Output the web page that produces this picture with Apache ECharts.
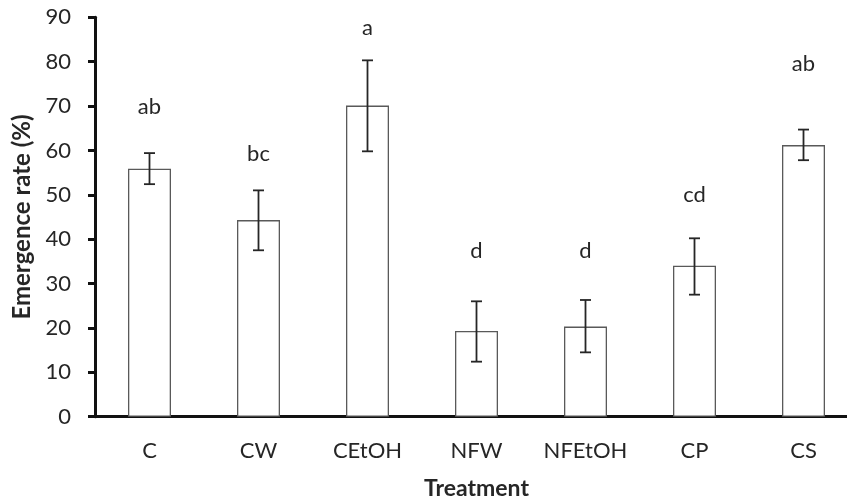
<!DOCTYPE html>
<html>
    <head>
        <meta charset="utf-8">
        <script src="https://cdn.jsdelivr.net/npm/echarts@6/dist/echarts.min.js"></script>
    </head>
    <body style="margin:0">
        <style>
            html, body, #main {
                width: 847px;
                height: 500px;
                background: #fff;
            }
        </style>
        <div id="main"></div>
        <script>
            var categories = ['C', 'CW', 'CEtOH', 'NFW', 'NFEtOH', 'CP', 'CS'];
            var means = [55.9, 44.3, 70.1, 19.3, 20.3, 34.0, 61.2];
            var errHigh = [59.4, 51.0, 80.3, 26.0, 26.3, 40.2, 64.7];
            var errLow = [52.4, 37.5, 59.8, 12.4, 14.5, 27.5, 57.8];
            var letters = ['ab', 'bc', 'a', 'd', 'd', 'cd', 'ab'];
            var letterY = [69.7, 59.3, 87.7, 37.3, 37.3, 49.9, 79.6];

            var font = 'Lato, "Open Sans", sans-serif';
            var textColor = '#262626';

            var chart = echarts.init(document.getElementById('main'));

            var errData = categories.map(function (c, i) {
                return [i, errHigh[i], errLow[i]];
            });
            var letterData = categories.map(function (c, i) {
                return [i, letterY[i], letters[i]];
            });

            chart.setOption({
                animation: false,
                grid: {
                    left: 95,
                    top: 17.3,
                    width: 763,
                    height: 399.4,
                    containLabel: false,
                    outerBoundsMode: 'none'
                },
                xAxis: {
                    type: 'category',
                    data: categories,
                    name: 'Treatment',
                    nameLocation: 'middle',
                    nameGap: 60,
                    nameTextStyle: {
                        fontFamily: font,
                        fontSize: 23,
                        fontWeight: 'bold',
                        color: textColor
                    },
                    axisLine: {
                        lineStyle: { color: '#111', width: 3 }
                    },
                    axisTick: {
                        length: 6,
                        lineStyle: { color: '#111', width: 3 }
                    },
                    axisLabel: {
                        margin: 23,
                        fontFamily: font,
                        fontSize: 22,
                        color: textColor
                    }
                },
                yAxis: {
                    type: 'value',
                    min: 0,
                    max: 90,
                    interval: 10,
                    name: 'Emergence rate (%)',
                    nameLocation: 'middle',
                    nameGap: 58,
                    nameTextStyle: {
                        fontFamily: font,
                        fontSize: 24,
                        fontWeight: 'bold',
                        color: textColor
                    },
                    splitLine: { show: false },
                    axisLine: {
                        show: true,
                        lineStyle: { color: '#111', width: 3 }
                    },
                    axisTick: {
                        show: true,
                        length: 7,
                        lineStyle: { color: '#111', width: 3 }
                    },
                    axisLabel: {
                        margin: 24,
                        fontFamily: font,
                        fontSize: 22,
                        color: textColor
                    }
                },
                series: [{
                    type: 'bar',
                    data: means,
                    barWidth: 43,
                    itemStyle: {
                        color: '#fff',
                        borderColor: '#595959',
                        borderWidth: 1.3
                    }
                }, {
                    type: 'custom',
                    data: errData,
                    z: 5,
                    renderItem: function (params, api) {
                        var hi = api.coord([api.value(0), api.value(1)]);
                        var lo = api.coord([api.value(0), api.value(2)]);
                        var half = 5.5;
                        var style = { stroke: '#262626', lineWidth: 1.8 };
                        return {
                            type: 'group',
                            children: [{
                                type: 'line',
                                shape: { x1: hi[0], y1: hi[1], x2: lo[0], y2: lo[1] },
                                style: style
                            }, {
                                type: 'line',
                                shape: { x1: hi[0] - half, y1: hi[1], x2: hi[0] + half, y2: hi[1] },
                                style: style
                            }, {
                                type: 'line',
                                shape: { x1: lo[0] - half, y1: lo[1], x2: lo[0] + half, y2: lo[1] },
                                style: style
                            }]
                        };
                    }
                }, {
                    type: 'custom',
                    data: letterData,
                    z: 6,
                    renderItem: function (params, api) {
                        var p = api.coord([api.value(0), api.value(1)]);
                        return {
                            type: 'text',
                            x: p[0],
                            y: p[1],
                            style: {
                                text: letters[params.dataIndex],
                                fill: textColor,
                                font: '22px ' + font,
                                align: 'center',
                                verticalAlign: 'middle'
                            }
                        };
                    }
                }]
            });
        </script>
    </body>
</html>
